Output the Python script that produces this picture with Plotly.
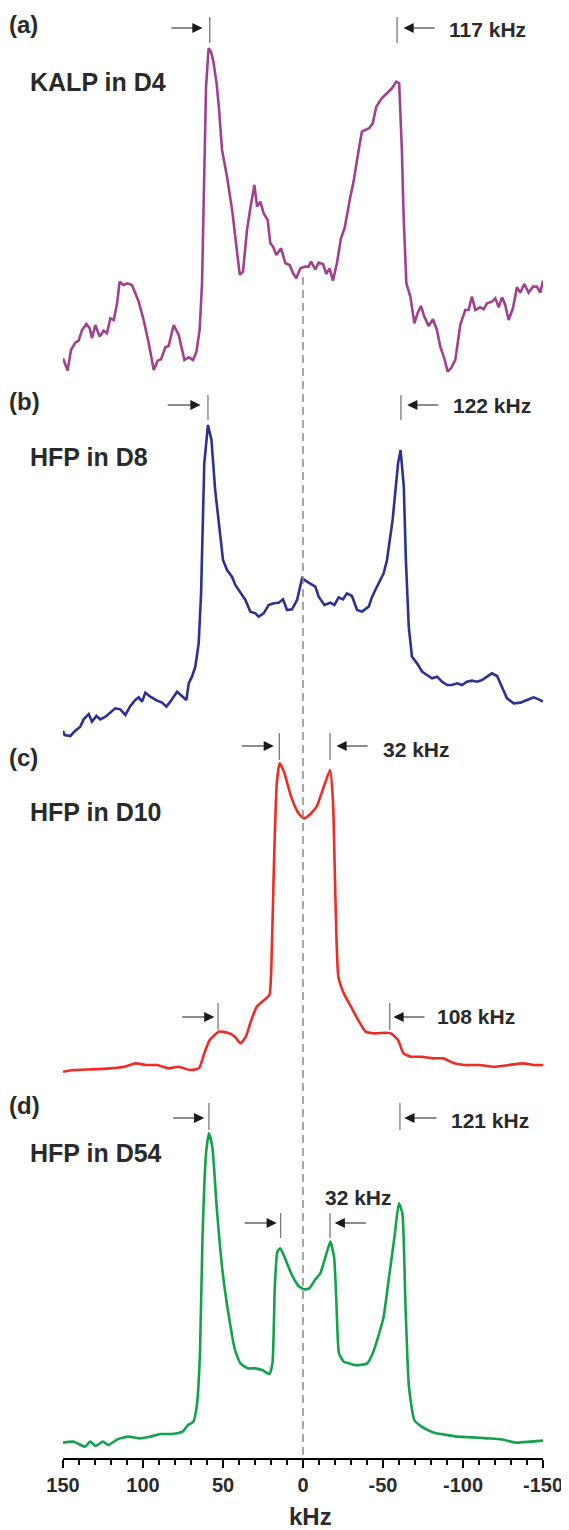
import plotly.graph_objects as go

# ---------------- data (kHz, intensity in arbitrary units) ----------------
khz_a = [150.0, 147.1, 145.0, 142.3, 140.2, 138.1, 135.4, 133.3, 131.9, 129.8, 127.1, 124.6, 122.5,
         120.4, 118.3, 116.2, 114.6, 112.1, 109.6, 106.9, 104.8, 102.7, 99.6, 96.4, 93.3, 90.8, 88.7,
         86.0, 84.0, 80.8, 77.7, 75.6, 74.1, 71.4, 68.7, 66.6, 64.6, 63.1, 62.1, 61.4, 60.6, 59.0,
         57.5, 56.0, 54.0, 52.6, 50.6, 47.5, 44.3, 41.6, 39.5, 37.5, 35.0, 32.9, 30.4, 28.7, 26.7,
         24.6, 22.1, 20.4, 18.7, 16.7, 13.7, 11.0, 8.3, 6.2, 4.2, 1.6, -1.5, -3.5, -5.0, -7.7, -9.8,
         -12.5, -14.6, -16.6, -18.7, -21.2, -23.7, -26.0, -27.9, -29.6, -31.6, -33.3, -34.8, -36.8,
         -39.0, -41.3, -43.6, -45.8, -49.2, -52.6, -55.6, -58.3, -60.1, -61.8, -62.9, -64.6, -67.1,
         -69.6, -71.6, -73.7, -75.8, -78.5, -81.2, -83.7, -85.8, -88.3, -90.4, -92.5, -95.2, -98.3,
         -101.4, -103.5, -105.6, -107.7, -110.8, -112.9, -115.0, -118.1, -120.2, -122.3, -124.4,
         -126.4, -128.5, -131.2, -133.7, -135.8, -138.3, -141.0, -143.7, -146.2, -148.3, -150.0]
int_a = [45, 8, 70, 92, 98, 130, 148, 135, 105, 145, 110, 128, 120,
         165, 160, 210, 275, 265, 270, 265, 240, 215, 160, 90, 10, 38, 42,
         78, 82, 145, 115, 70, 40, 48, 40, 65, 130, 270, 470, 670, 860, 975,
         965, 935, 870, 800, 670, 590, 490, 380, 295, 305, 430, 495, 565, 500, 515,
         480, 460, 390, 380, 355, 375, 330, 325, 300, 285, 315, 320, 320, 335, 312, 332,
         328, 298, 315, 278, 330, 405, 435, 490, 530, 575, 630, 670, 725,
         730, 735, 750, 800, 825, 840, 855, 875, 870, 670, 470, 270, 230,
         150, 180, 202, 170, 142, 162, 130, 80, 45, 5, 15, 40, 145,
         190, 190, 230, 190, 198, 192, 210, 215, 225, 198, 228,
         205, 160, 195, 258, 242, 268, 242, 260, 260, 242, 278]

khz_b = [150.0, 149.0, 145.4, 142.3, 139.2, 137.1, 133.9, 131.9, 129.1, 126.7, 123.5, 120.4, 117.3,
         114.2, 111.0, 107.9, 104.8, 102.7, 100.6, 98.5, 95.4, 91.2, 88.1, 85.4, 82.9, 78.7, 75.6,
         72.9, 71.4, 69.4, 67.3, 65.2, 63.7, 63.1, 61.7, 59.4, 57.2, 54.9, 51.5, 50.0, 47.5, 44.4,
         42.3, 39.1, 36.0, 32.9, 29.8, 27.7, 24.6, 21.5, 18.3, 15.2, 12.5, 10.0, 6.9, 3.7, 0.6, -2.5,
         -5.6, -7.7, -9.8, -13.4, -17.1, -19.6, -22.3, -25.0, -27.5, -30.6, -33.8, -36.9, -41.1,
         -43.2, -45.2, -48.4, -50.4, -52.5, -56.0, -59.4, -61.0, -63.0, -64.3, -66.1, -68.1, -71.3,
         -74.4, -77.5, -80.6, -83.8, -86.9, -90.0, -93.1, -96.3, -99.4, -102.5, -105.6, -108.8,
         -111.9, -115.0, -118.1, -121.3, -124.4, -127.5, -131.7, -135.9, -140.0, -144.2, -147.3,
         -150.0]
int_b = [28, 15, 12, 28, 40, 62, 78, 55, 72, 62, 70, 82, 95,
         92, 75, 102, 120, 128, 115, 142, 130, 118, 112, 100, 115, 145, 130,
         120, 170, 190, 220, 290, 440, 540, 830, 945, 900, 750, 610, 540, 510, 490,
         465, 440, 420, 385, 380, 370, 380, 405, 410, 412, 422, 390, 392, 420, 485, 475,
         465, 460, 430, 405, 412, 405, 428, 422, 440, 432, 390, 385, 400,
         430, 450, 480, 500, 540, 660, 830, 870, 760, 540, 340, 250, 230,
         205, 195, 185, 190, 175, 165, 165, 170, 165, 175, 178, 175,
         180, 190, 200, 192, 160, 125, 110, 112, 120, 128, 122,
         115]

khz_c = [150.0, 143.2, 131.9, 120.6, 111.5, 104.7, 97.9, 91.1, 84.3, 77.6, 70.8, 65.1, 61.7, 58.3,
         52.6, 47.0, 42.5, 39.1, 35.7, 32.3, 28.9, 25.5, 21.0, 19.8, 18.2, 16.4, 14.6, 11.9, 7.4, 2.8,
         -0.6, -4.0, -8.5, -13.0, -16.9, -18.7, -20.3, -22.1, -25.5, -30.0, -34.5, -39.1, -44.7, -51.5,
         -54.9, -59.4, -62.8, -67.4, -74.1, -80.9, -87.7, -94.5, -101.3, -110.4, -119.4, -128.5,
         -137.5, -144.3, -150.0]
int_c = [15, 20, 22, 25, 30, 40, 35, 35, 25, 30, 20, 25, 70, 110, 135, 132, 120, 100, 120, 170, 210,
         225, 245, 330, 630, 880, 940, 915, 840, 790, 775, 785, 810, 870, 920, 830, 530, 300, 250, 210,
         170, 135, 130, 132, 130, 110, 70, 60, 60, 55, 55, 40, 35, 35, 30, 35, 40, 35, 35]

khz_d = [150.0, 143.2, 136.4, 133.0, 129.6, 125.1, 121.7, 116.0, 109.3, 102.5, 95.7, 88.9, 82.1, 75.3,
         71.9, 68.5, 66.2, 64.4, 62.8, 60.6, 58.8, 56.7, 53.8, 50.4, 46.3, 42.5, 39.1, 34.5, 30.0, 25.5,
         21.0, 19.1, 17.6, 16.0, 14.2, 10.8, 7.4, 2.8, -0.6, -4.0, -7.4, -10.8, -14.1, -17.1, -19.4,
         -20.9, -22.5, -25.5, -28.9, -32.3, -35.6, -40.2, -43.6, -47.0, -50.4, -53.8, -57.2, -59.9,
         -62.1, -64.0, -66.2, -69.6, -74.1, -78.7, -83.2, -90.0, -96.8, -105.8, -114.9, -124.0, -133.0,
         -142.1, -150.0]
int_d = [22, 25, 10, 25, 12, 25, 15, 32, 40, 35, 40, 48, 48, 55, 75, 85, 140, 290, 640, 890, 950, 910,
         720, 540, 400, 300, 260, 245, 245, 240, 228, 260, 490, 595, 605, 570, 530, 492, 482, 485, 510,
         530, 580, 625, 580, 440, 290, 265, 260, 255, 255, 260, 290, 340, 400, 520, 640, 740, 710, 440,
         190, 90, 70, 58, 50, 45, 40, 38, 35, 32, 22, 25, 28]

panel_letters = ["(a)", "(b)", "(c)", "(d)"]
sample_names = ["KALP in D4", "HFP in D8", "HFP in D10", "HFP in D54"]
splitting_labels = ["117 kHz", "122 kHz", "32 kHz", "108 kHz", "121 kHz", "32 kHz"]
tick_values = [150, 100, 50, 0, -50, -100, -150]
tick_labels = ["150", "100", "50", "0", "-50", "-100", "-150"]

# ---------------- layout constants ----------------
PAGE_W, PAGE_H = 569, 1530
OFF = 8                       # default body margin of the html page
W, H = PAGE_W - OFF, PAGE_H - OFF
AXIS_PX = 1459                # page y of the x axis line
LEFT_PX, RIGHT_PX = 63, 543   # page x of 150 and -150 kHz
ML = LEFT_PX - OFF
MR = W - (RIGHT_PX - OFF)
MT = 0
MB = H - (AXIS_PX - OFF)
PH = H - MT - MB
PW = W - ML - MR
UNITS_PER_PX = 3.0
YR = 1000
FONT = "Arial, Liberation Sans, Helvetica, sans-serif"
TXT = "#2a2a2a"

def yp(px):   # page px -> paper y
    return (AXIS_PX - px) / PH

def xp(px):   # page px -> paper x
    return (px - LEFT_PX) / PW

panels = [
    (khz_a, int_a, "#a0418f", 373.3, 0.0),
    (khz_b, int_b, "#2e3192", 740.0, 0.0),
    (khz_c, int_c, "#ee2b24", 1076.7, 0.5),
    (khz_d, int_d, "#12a24c", 1450.0, 0.5),
]

fig = go.Figure()
layout_axes = {}
for i, (xs, ys, col, base, smooth) in enumerate(panels):
    yname = "y" if i == 0 else f"y{i+1}"
    lname = "yaxis" if i == 0 else f"yaxis{i+1}"
    line = dict(color=col, width=2.6)
    if smooth > 0:
        line.update(shape="spline", smoothing=smooth)
    fig.add_trace(go.Scatter(x=xs, y=ys, mode="lines", yaxis=yname, xaxis="x", line=line,
                             hoverinfo="skip", showlegend=False))
    top = base - YR / UNITS_PER_PX
    layout_axes[lname] = dict(domain=[yp(base), yp(top)], range=[0, YR], visible=False,
                              anchor="x", fixedrange=True)

fig.update_layout(**layout_axes)

fig.update_layout(
    width=W, height=H, margin=dict(l=ML, r=MR, t=MT, b=MB),
    paper_bgcolor="white", plot_bgcolor="white", showlegend=False,
    xaxis=dict(range=[150, -150], tickvals=tick_values, ticktext=tick_labels,
               ticks="outside", ticklen=8, tickwidth=2, tickcolor="black",
               showline=True, linecolor="black", linewidth=2, showgrid=False, zeroline=False,
               tickfont=dict(family=FONT, size=20, color=TXT, weight="bold"),
               minor=dict(dtick=10, ticks="outside", ticklen=5, tickwidth=1.5, tickcolor="black",
                          showgrid=False),
               anchor="free", position=0, fixedrange=True),
)

shapes = []
shapes.append(dict(type="line", xref="x", yref="paper", x0=0, x1=0, y0=yp(277), y1=yp(AXIS_PX),
                   line=dict(color="#8a8a8a", width=1.5, dash="8px,5px")))

markers = [(58.3, 17, 43), (-58.8, 17, 43),
           (59.4, 395, 420), (-61.2, 395, 420),
           (14.8, 733, 760), (-16.9, 733, 760), (53.1, 1003, 1030), (-54.2, 1003, 1030),
           (58.8, 1103, 1130), (-60.6, 1103, 1130), (14.0, 1213, 1238), (-16.9, 1213, 1238)]
for kx, t, b in markers:
    shapes.append(dict(type="line", xref="x", yref="paper", x0=kx, x1=kx, y0=yp(b), y1=yp(t),
                       line=dict(color="#7a7a7a", width=1.3)))

annotations = []
arrows = [(83.2, 62.8, 28), (-83.2, -62.8, 28),
          (85.5, 64.0, 405), (-85.5, -65.1, 405),
          (39.1, 18.2, 746), (-41.3, -20.9, 746), (76.4, 55.4, 1017), (-76.9, -56.5, 1017),
          (82.1, 61.7, 1118), (-84.3, -63.3, 1118), (37.3, 16.4, 1223), (-40.2, -19.8, 1223)]
for tail, head, ypx in arrows:
    annotations.append(dict(x=head, y=yp(ypx), xref="x", yref="paper", ax=tail, ay=0,
                            axref="x", ayref="pixel", text="", showarrow=True,
                            arrowhead=2, arrowsize=1.7, arrowwidth=1.2, arrowcolor="#1a1a1a",
                            standoff=0, startstandoff=0))

for lab, ypx in zip(panel_letters, [24, 401, 757, 1105]):
    annotations.append(dict(text=lab, x=xp(7), y=yp(ypx), xref="paper", yref="paper",
                            xanchor="left", yanchor="middle", showarrow=False,
                            font=dict(family=FONT, size=24, color=TXT, weight="bold")))
for lab, ypx in zip(sample_names, [82, 457, 812, 1153]):
    annotations.append(dict(text=lab, x=xp(28), y=yp(ypx), xref="paper", yref="paper",
                            xanchor="left", yanchor="middle", showarrow=False,
                            font=dict(family=FONT, size=25, color=TXT, weight="bold")))
for lab, (kx, ypx) in zip(splitting_labels, [(-90.0, 30), (-92.3, 406), (-48.8, 749),
                                             (-82.8, 1017), (-91.1, 1120), (-12.6, 1197)]):
    annotations.append(dict(text=lab, x=kx, y=yp(ypx), xref="x", yref="paper",
                            xanchor="left", yanchor="middle", showarrow=False,
                            font=dict(family=FONT, size=21, color=TXT, weight="bold")))
annotations.append(dict(text="kHz", x=-4.6, y=yp(1517), xref="x", yref="paper",
                        xanchor="center", yanchor="middle", showarrow=False,
                        font=dict(family=FONT, size=24, color=TXT, weight="bold")))

fig.update_layout(shapes=shapes, annotations=annotations)
fig.write_html("out.html")
